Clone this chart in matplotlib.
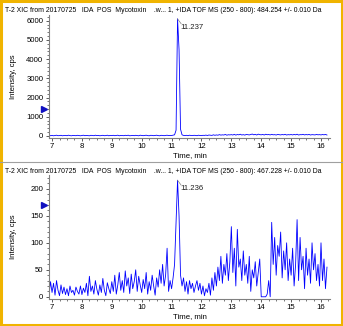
import numpy as np
import matplotlib
matplotlib.use("Agg")
import matplotlib.pyplot as plt
from matplotlib.ticker import MultipleLocator

plt.rcParams['font.family'] = ['Liberation Sans', 'DejaVu Sans']

# time grid (min), one point every 0.05 min
time = np.round(np.arange(6.85, 16.2001, 0.05), 2)

# top trace: XIC 484.254 (cps)
top_cps = [
    20, 35, 15,
    30, 10, 25, 40, 15, 20, 35, 10, 25, 30, 15, 40, 20, 10, 30, 25, 15, 35, 20, 10,
    25, 40, 15, 30, 20, 10, 35, 25, 15, 40, 20, 30, 10, 25, 35, 15, 20, 40, 10, 30,
    20, 35, 15, 25, 40, 10, 30, 20, 15, 35, 25, 40, 10, 20, 30, 15, 35, 25, 10, 40,
    30, 15, 25, 40, 20, 10, 35, 30, 15, 25, 40, 20, 10, 35, 25, 15, 30, 40, 20, 30,
    25, 40, 60, 300, 6100, 4500, 350, 60, 30, 20, 35, 15, 40, 25, 20, 35, 30, 15, 40, 25,
    20, 35, 30, 45, 25, 50, 40, 30, 60, 35, 55, 40, 70, 45, 60, 50, 80, 40, 65, 55,
    70, 50, 85, 45, 75, 60, 90, 50, 70, 45, 80, 65, 55, 75, 100, 60, 85, 50, 95, 70,
    60, 80, 50, 90, 65, 75, 55, 85, 60, 70, 50, 80, 65, 55, 75, 60, 85, 50, 70, 60,
    75, 55, 80, 60, 90, 50, 70, 65, 85, 55, 75, 60, 80, 50, 70, 65, 55, 80, 60, 70,
    55, 75, 60, 80, 50,
]

# bottom trace: XIC 467.228 (cps)
bottom_cps = [
    20, 5, 28,
    8, 25, 3, 30, 12, 2, 22, 6, 18, 4, 15, 2, 20, 8, 12, 3, 18, 10, 5, 20,
    4, 16, 8, 25, 2, 38, 10, 20, 5, 30, 14, 3, 22, 8, 34, 12, 2, 26, 15, 6,
    28, 10, 40, 5, 22, 45, 12, 30, 8, 48, 20, 35, 6, 42, 15, 28, 50, 10, 38, 22,
    8, 32, 15, 45, 5, 28, 12, 40, 20, 3, 35, 18, 50, 25, 60, 20, 40, 90, 10, 30,
    15, 35, 60, 140, 216, 150, 40, 20, 35, 10, 28, 5, 30, 15, 25, 8, 20, 30, 12, 25,
    5, 20, 2, 15, 8, 25, 3, 35, 12, 45, 20, 55, 30, 75, 25, 60, 40, 80, 30, 65,
    130, 45, 90, 20, 125, 55, 70, 30, 85, 40, 60, 25, 75, 10, 50, 35, 65, 20, 45, 70,
    0, 0, 0, 0, 5, 30, 0, 138, 60, 110, 40, 95, 75, 120, 35, 85, 50, 100, 30, 70,
    40, 90, 20, 60, 143, 30, 110, 50, 75, 15, 90, 40, 70, 25, 100, 50, 80, 30, 60, 20,
    100, 30, 70, 15, 55,
]

titles = [
    "T-2 XIC from 20170725   IDA  POS  Mycotoxin    .w... 1, +IDA TOF MS (250 - 800): 484.254 +/- 0.010 Da",
    "T-2 XIC from 20170725   IDA  POS  Mycotoxin    .w... 1, +IDA TOF MS (250 - 800): 467.228 +/- 0.010 Da",
]
peak_labels = ["11.237", "11.236"]
arrow_levels = [1400, 170]

fig = plt.figure(figsize=(3.43, 3.26), dpi=100)
blue = "#0000FF"
gray = "#808080"
fs = 5.6

panels = [
    dict(rect=[0.143, 0.577, 0.819, 0.377], y=top_cps, ylim=(-100, 6300), step=1000,
         minor=200, title_y=0.980),
    dict(rect=[0.143, 0.083, 0.819, 0.379], y=bottom_cps, ylim=(-4, 225), step=50,
         minor=10, title_y=0.486),
]

for i, p in enumerate(panels):
    ax = fig.add_axes(p["rect"])
    ax.plot(time, p["y"], color=blue, lw=0.6)
    ax.set_xlim(6.9, 16.3)
    ax.set_ylim(*p["ylim"])
    ax.xaxis.set_major_locator(MultipleLocator(1))
    ax.xaxis.set_minor_locator(MultipleLocator(0.25))
    ax.yaxis.set_major_locator(MultipleLocator(p["step"]))
    ax.yaxis.set_minor_locator(MultipleLocator(p["minor"]))
    for s in ["top", "right"]:
        ax.spines[s].set_visible(False)
    for s in ["left", "bottom"]:
        ax.spines[s].set_color(gray)
        ax.spines[s].set_linewidth(0.8)
    ax.tick_params(axis="both", which="major", labelsize=fs, length=2.5, width=0.6,
                   color="#404040", pad=1.5)
    ax.tick_params(axis="both", which="minor", length=1.2, width=0.5, color="#404040")
    ax.set_xlabel("Time, min", fontsize=fs, labelpad=1)
    ax.set_ylabel("Intensity, cps", fontsize=fs, labelpad=3)
    ax.yaxis.set_label_coords(-0.115, 0.5)

    # apex label with leader
    k = int(np.argmax(p["y"]))
    ymax = p["y"][k]
    span = p["ylim"][1] - p["ylim"][0]
    ax.plot([time[k], time[k] + 0.12], [ymax, ymax - 0.04 * span], color=gray, lw=0.5)
    ax.text(time[k] + 0.1, ymax - 0.04 * span, peak_labels[i], fontsize=fs,
            ha="left", va="top", color="#202020")

    # marker at y axis
    ax.plot([-0.018], [arrow_levels[i]], marker=">", ms=4.5, color="#1010C0",
            transform=ax.get_yaxis_transform(), clip_on=False)

    fig.text(0.015, p["title_y"], titles[i], fontsize=4.95, ha="left", va="top")

# divider between the panels
fig.add_artist(plt.Line2D([0.0, 1.0], [0.503, 0.503], color="#A0A0A0", lw=0.8))
# frame around the whole picture
fig.add_artist(plt.Rectangle((0.002, 0.003), 0.995, 0.994, fill=False,
                             edgecolor="#F0B400", lw=2.2, transform=fig.transFigure))

fig.savefig("out.png", dpi=100)
